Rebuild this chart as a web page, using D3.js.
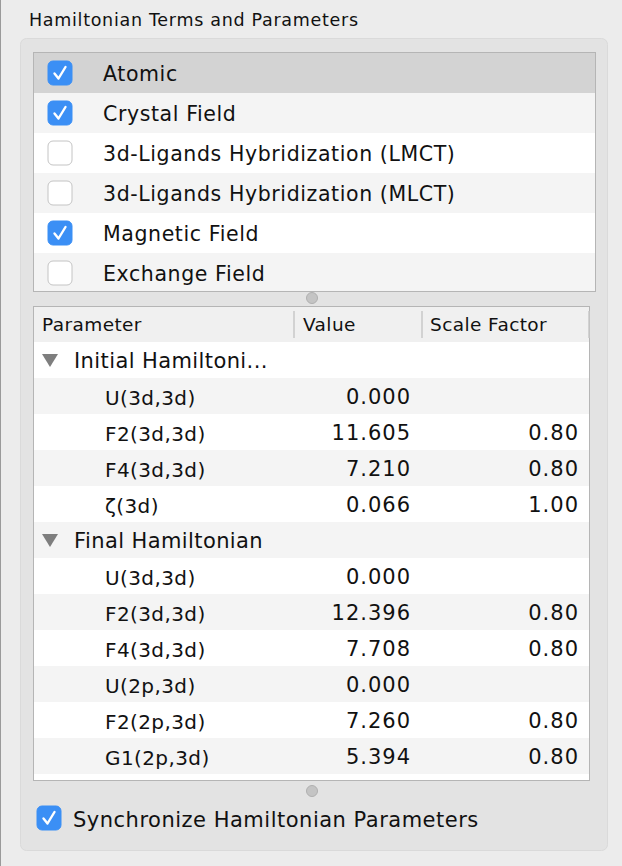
<!DOCTYPE html>
<html><head><meta charset="utf-8">
<script src="https://cdn.jsdelivr.net/npm/d3@7"></script>
<style>body{margin:0;background:#ececec}text{font-family:"DejaVu Sans",sans-serif;fill:#111;letter-spacing:0.4px}</style>
</head><body><svg id="c" width="622" height="866"></svg>
<script>
const terms = ["Atomic","Crystal Field","3d-Ligands Hybridization (LMCT)","3d-Ligands Hybridization (MLCT)","Magnetic Field","Exchange Field"];
const termChecked = [true,true,false,false,true,false];
const paramNames = ["Initial Hamiltoni...","U(3d,3d)","F2(3d,3d)","F4(3d,3d)","ζ(3d)","Final Hamiltonian","U(3d,3d)","F2(3d,3d)","F4(3d,3d)","U(2p,3d)","F2(2p,3d)","G1(2p,3d)","G3(2p,3d)"];
const paramIsGroup = [true,false,false,false,false,true,false,false,false,false,false,false,false];
const paramValues = ["","0.000","11.605","7.210","0.066","","0.000","12.396","7.708","0.000","7.260","5.394","3.069"];
const paramScales = ["","","0.80","0.80","1.00","","","0.80","0.80","","0.80","0.80","0.80"];
const columns = ["Parameter","Value","Scale Factor"];

const svg = d3.select("#c");
svg.append("rect").attr("width",622).attr("height",866).attr("fill","#ececec");
svg.append("line").attr("x1",0.5).attr("x2",0.5).attr("y1",0).attr("y2",866).attr("stroke","#9a9a9a");
svg.append("text").attr("x",29).attr("y",26).attr("font-size",17.5).style("letter-spacing","0.7px").text("Hamiltonian Terms and Parameters");
svg.append("rect").attr("x",20.5).attr("y",38.5).attr("width",587).attr("height",812).attr("rx",6)
  .attr("fill","#e3e3e3").attr("stroke","#dadada");

function checkbox(g, x, y, on){
  g.append("rect").attr("x",x).attr("y",y).attr("width",24).attr("height",24).attr("rx",5)
    .attr("fill",on?"#3b8ff5":"#fff").attr("stroke",on?"#3b8ff5":"#c4c4c4");
  if(on) g.append("path").attr("d",`M${x+6.5},${y+12.5} L${x+10.5},${y+17.5} L${x+17.5},${y+6}`)
    .attr("fill","none").attr("stroke","#fff").attr("stroke-width",2.4).attr("stroke-linecap","round").attr("stroke-linejoin","round");
}

// terms list
const ty = d3.scaleBand().domain(d3.range(terms.length)).range([53,293]);
const tl = svg.append("g");
tl.append("rect").attr("x",33.5).attr("y",52.5).attr("width",562).attr("height",239).attr("fill","#fff").attr("stroke","#b5b5b5");
terms.forEach((t,i)=>{
  tl.append("rect").attr("x",34).attr("y",ty(i)).attr("width",561).attr("height",Math.min(ty.bandwidth(),291-ty(i)))
    .attr("fill", i===0?"#d3d3d3":(i%2?"#f4f4f4":"#fff"));
  checkbox(tl,48,ty(i)+8,termChecked[i]);
  tl.append("text").attr("x",103).attr("y",ty(i)+28).attr("font-size",20.5).style("letter-spacing","0.6px").text(t);
});
svg.append("circle").attr("cx",312).attr("cy",298).attr("r",5.5).attr("fill","#c4c4c4").attr("stroke","#b0b0b0");

// parameter table
const tb = svg.append("g");
tb.append("rect").attr("x",33.5).attr("y",306.5).attr("width",556).attr("height",474).attr("fill","#fff").attr("stroke","#b5b5b5");
tb.append("rect").attr("x",34).attr("y",307).attr("width",555).attr("height",35).attr("fill","#f0f0f0");
const colX = [42,303,430];
columns.forEach((c,i)=>tb.append("text").attr("x",colX[i]).attr("y",331).attr("font-size",18.5).text(c));
[294,422,589].forEach(x=>tb.append("line").attr("x1",x).attr("x2",x).attr("y1",311).attr("y2",338).attr("stroke","#c8c8c8").attr("stroke-width",1.5));
const py = d3.scaleBand().domain(d3.range(paramNames.length)).range([342,342+36*paramNames.length]);
svg.append("clipPath").attr("id","tc").append("rect").attr("x",34).attr("y",342).attr("width",555).attr("height",438);
const body = tb.append("g").attr("clip-path","url(#tc)");
paramNames.forEach((p,i)=>{
  const y = py(i);
  body.append("rect").attr("x",34).attr("y",y).attr("width",555).attr("height",36).attr("fill",i%2?"#f4f4f4":"#fff");
  if(paramIsGroup[i]){
    body.append("path").attr("d",`M42,${y+12} L58,${y+12} L50,${y+25} Z`).attr("fill","#7e7e7e");
    body.append("text").attr("x",74).attr("y",y+26).attr("font-size",21).text(p);
  } else {
    body.append("text").attr("x",105).attr("y",y+27).attr("font-size",20).text(p);
    body.append("text").attr("x",411).attr("y",y+26).attr("font-size",21).attr("text-anchor","end").style("letter-spacing","1px").text(paramValues[i]);
    body.append("text").attr("x",579).attr("y",y+26).attr("font-size",21).attr("text-anchor","end").style("letter-spacing","1px").text(paramScales[i]);
  }
});
svg.append("circle").attr("cx",312).attr("cy",791).attr("r",5.5).attr("fill","#c4c4c4").attr("stroke","#b0b0b0");

checkbox(svg,37,806,true);
svg.append("text").attr("x",73).attr("y",827).attr("font-size",21).style("letter-spacing","0.5px").text("Synchronize Hamiltonian Parameters");
</script></body></html>
